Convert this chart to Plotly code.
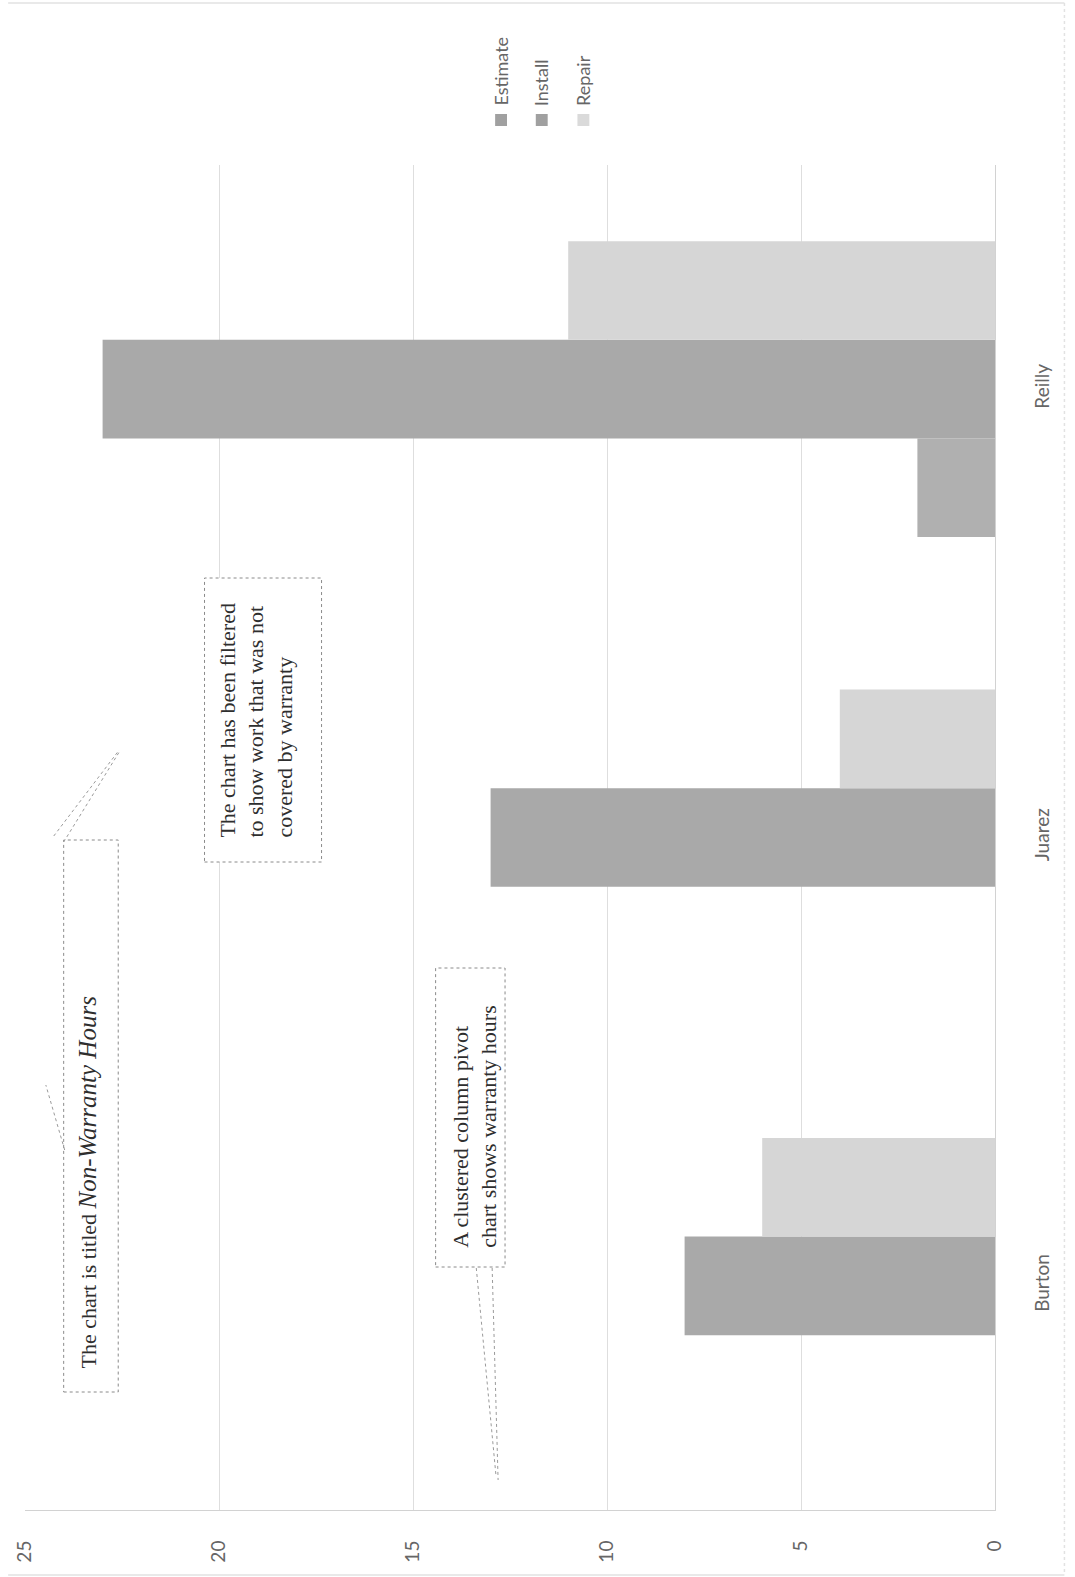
import plotly.graph_objects as go

# ---------------- data ----------------
categories = ["Burton", "Juarez", "Reilly"]
series_names = ["Estimate", "Install", "Repair"]
estimate = [None, None, 2]
install = [8, 13, 23]
repair = [6, 4, 11]
value_ticks = [0, 5, 10, 15, 20, 25]

# ---------------- styling ----------------
W, H = 1075, 1577
L, R, T, B = 17, 995, 165, 1510          # plot area in pixels
colors = ["#b0b0b0", "#a9a9a9", "#d6d6d6"]
TXT = "#666666"
SANS = "Lato"
SERIF = "Liberation Serif"


def px(x):
    return (x - L) / (R - L)


def py(y):
    return (B - y) / (B - T)


fig = go.Figure()
for name, vals, col in zip(series_names, [estimate, install, repair], colors):
    fig.add_trace(go.Bar(
        y=categories, x=vals, orientation="h", name=name,
        marker=dict(color=col, line=dict(width=0)), showlegend=False,
    ))

fig.update_layout(
    width=W, height=H,
    margin=dict(l=L, r=W - R, t=T, b=H - B, pad=0),
    paper_bgcolor="white", plot_bgcolor="white",
    barmode="group", bargap=0.34, bargroupgap=0,
    xaxis=dict(
        range=[25, 0], tickvals=value_ticks, tickangle=-90,
        showgrid=True, gridcolor="#dedede", gridwidth=1,
        showline=True, linecolor="#d2d2d2", linewidth=1,
        zeroline=False, ticks="", ticklabelstandoff=22,
        tickfont=dict(family=SANS, size=19, color=TXT),
    ),
    yaxis=dict(
        side="right", tickangle=-90, showgrid=False,
        showline=True, linecolor="#d2d2d2", linewidth=1,
        ticks="", ticklabelstandoff=30,
        tickfont=dict(family=SANS, size=19, color=TXT),
    ),
    font=dict(family=SANS),
)

shapes = []
annotations = []

# chart-area border (top, right, bottom)
for (x0, y0, x1, y1, dash) in [(0, 3, 1065, 3, "solid"), (1065, 3, 1065, 1575, "dot"),
                               (0, 1575, 1065, 1575, "solid")]:
    shapes.append(dict(type="line", xref="paper", yref="paper",
                       x0=px(x0), y0=py(y0), x1=px(x1), y1=py(y1),
                       line=dict(color="#e2e2e2", width=1.5, dash=dash)))

# custom rotated legend
legend_x = [497, 538, 580]
for name, col, lx in zip(series_names, ["#a0a0a0", "#a0a0a0", "#dadada"], legend_x):
    shapes.append(dict(type="rect", xref="paper", yref="paper",
                       x0=px(lx - 6), x1=px(lx + 6), y0=py(126), y1=py(114),
                       fillcolor=col, line=dict(width=0)))
    annotations.append(dict(text=name, xref="paper", yref="paper",
                            x=px(lx), y=py(108), xanchor="center", yanchor="bottom",
                            textangle=-90, showarrow=False,
                            font=dict(family=SANS, size=18, color=TXT)))

# callout boxes
boxes = [
    (56, 840, 111, 1392),
    (431, 968, 501, 1267),
    (198, 578, 316, 862),
]
for (x0, y0, x1, y1) in boxes:
    shapes.append(dict(type="rect", xref="paper", yref="paper",
                       x0=px(x0), x1=px(x1), y0=py(y1), y1=py(y0),
                       fillcolor="white", line=dict(color="#8a8a8a", width=1, dash="dot"),
                       layer="above"))

annotations.append(dict(
    text="The chart is titled <i><span style='font-size:25px'>Non-Warranty Hours</span></i>",
    xref="paper", yref="paper", x=px(80), y=py(1370),
    xanchor="center", yanchor="bottom", textangle=-90, showarrow=False,
    font=dict(family=SERIF, size=22, color="#2e2e2e")))
annotations.append(dict(
    text="A clustered column pivot<br>chart shows warranty hours",
    xref="paper", yref="paper", x=px(470), y=py(1250),
    xanchor="center", yanchor="bottom", textangle=-90, showarrow=False, align="left",
    font=dict(family=SERIF, size=22, color="#2e2e2e")))
annotations.append(dict(
    text="The chart has been filtered<br>to show work that was not<br>covered by warranty",
    xref="paper", yref="paper", x=px(250), y=py(840),
    xanchor="center", yanchor="bottom", textangle=-90, showarrow=False, align="left",
    font=dict(family=SERIF, size=22, color="#2e2e2e")))

# callout leader lines
for (x0, y0, x1, y1) in [(472, 1268, 492, 1477), (488, 1268, 494, 1480),
                         (57, 1150, 38, 1085), (46, 836, 112, 750), (56, 842, 112, 752)]:
    shapes.append(dict(type="line", xref="paper", yref="paper",
                       x0=px(x0), y0=py(y0), x1=px(x1), y1=py(y1),
                       line=dict(color="#9a9a9a", width=1, dash="dot"), layer="above"))

fig.update_layout(shapes=shapes, annotations=annotations)
fig.write_html("out.html")
